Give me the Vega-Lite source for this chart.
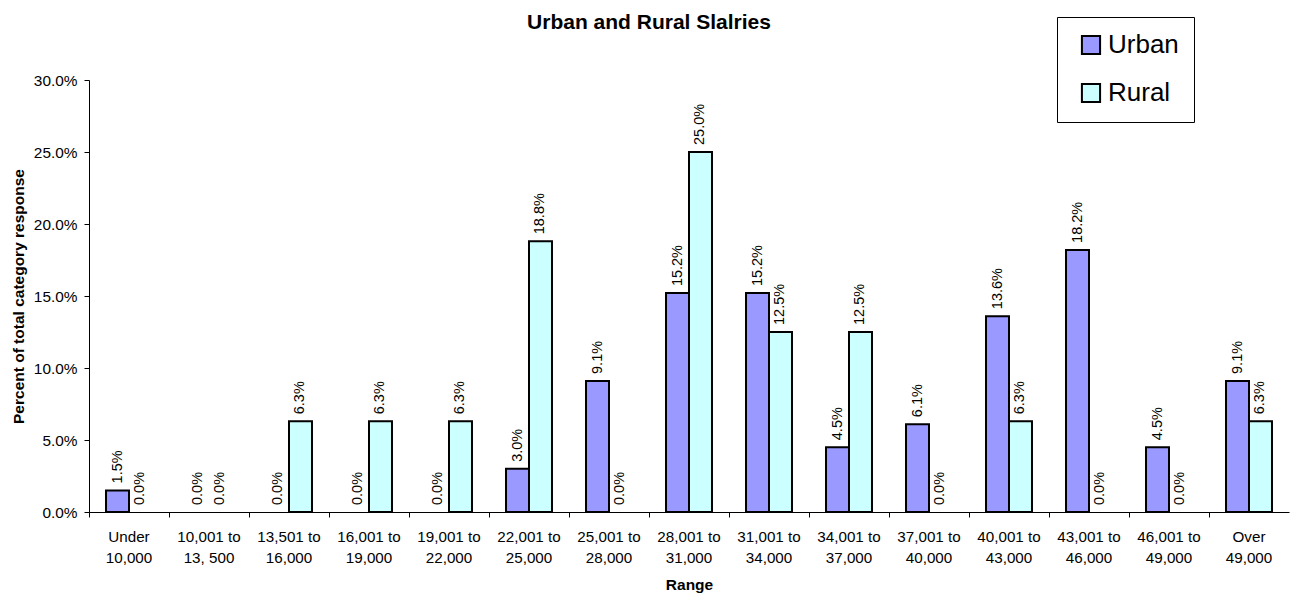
{
  "$schema": "https://vega.github.io/schema/vega-lite/v6.json",
  "width": 1200,
  "height": 432,
  "autosize": "none",
  "padding": {"left": 89, "top": 80, "right": 9, "bottom": 82},
  "background": "white",
  "config": {
    "font": "Liberation Sans",
    "view": {"stroke": null}
  },
  "title": {
    "text": "Urban and Rural Slalries",
    "fontSize": 21,
    "fontWeight": "bold",
    "color": "black",
    "anchor": "middle",
    "dx": -40,
    "offset": -16
  },
  "data": {
    "values": [
      {"range": "Under|10,000", "series": "Urban", "pct": 0.015},
      {"range": "Under|10,000", "series": "Rural", "pct": 0.0},
      {"range": "10,001 to|13, 500", "series": "Urban", "pct": 0.0},
      {"range": "10,001 to|13, 500", "series": "Rural", "pct": 0.0},
      {"range": "13,501 to|16,000", "series": "Urban", "pct": 0.0},
      {"range": "13,501 to|16,000", "series": "Rural", "pct": 0.063},
      {"range": "16,001 to|19,000", "series": "Urban", "pct": 0.0},
      {"range": "16,001 to|19,000", "series": "Rural", "pct": 0.063},
      {"range": "19,001 to|22,000", "series": "Urban", "pct": 0.0},
      {"range": "19,001 to|22,000", "series": "Rural", "pct": 0.063},
      {"range": "22,001 to|25,000", "series": "Urban", "pct": 0.03},
      {"range": "22,001 to|25,000", "series": "Rural", "pct": 0.188},
      {"range": "25,001 to|28,000", "series": "Urban", "pct": 0.091},
      {"range": "25,001 to|28,000", "series": "Rural", "pct": 0.0},
      {"range": "28,001 to|31,000", "series": "Urban", "pct": 0.152},
      {"range": "28,001 to|31,000", "series": "Rural", "pct": 0.25},
      {"range": "31,001 to|34,000", "series": "Urban", "pct": 0.152},
      {"range": "31,001 to|34,000", "series": "Rural", "pct": 0.125},
      {"range": "34,001 to|37,000", "series": "Urban", "pct": 0.045},
      {"range": "34,001 to|37,000", "series": "Rural", "pct": 0.125},
      {"range": "37,001 to|40,000", "series": "Urban", "pct": 0.061},
      {"range": "37,001 to|40,000", "series": "Rural", "pct": 0.0},
      {"range": "40,001 to|43,000", "series": "Urban", "pct": 0.136},
      {"range": "40,001 to|43,000", "series": "Rural", "pct": 0.063},
      {"range": "43,001 to|46,000", "series": "Urban", "pct": 0.182},
      {"range": "43,001 to|46,000", "series": "Rural", "pct": 0.0},
      {"range": "46,001 to|49,000", "series": "Urban", "pct": 0.045},
      {"range": "46,001 to|49,000", "series": "Rural", "pct": 0.0},
      {"range": "Over|49,000", "series": "Urban", "pct": 0.091},
      {"range": "Over|49,000", "series": "Rural", "pct": 0.063}
    ]
  },
  "encoding": {
    "x": {
      "field": "range",
      "type": "nominal",
      "sort": null,
      "scale": {
        "domain": ["Under|10,000", "10,001 to|13, 500", "13,501 to|16,000", "16,001 to|19,000", "19,001 to|22,000", "22,001 to|25,000", "25,001 to|28,000", "28,001 to|31,000", "31,001 to|34,000", "34,001 to|37,000", "37,001 to|40,000", "40,001 to|43,000", "43,001 to|46,000", "46,001 to|49,000", "Over|49,000"],
        "paddingInner": 0,
        "paddingOuter": 0
      },
      "axis": {
        "title": "Range",
        "titleFontSize": 15.5,
        "titleFontWeight": "bold",
        "titleColor": "black",
        "titlePadding": 12,
        "labelAngle": 0,
        "labelFontSize": 15.2,
        "labelColor": "black",
        "labelLineHeight": 21,
        "labelPadding": 12,
        "labelExpr": "split(datum.value, '|')",
        "bandPosition": 0,
        "domainColor": "black",
        "tickColor": "black",
        "tickSize": 5,
        "grid": false
      }
    },
    "xOffset": {
      "field": "series",
      "type": "nominal",
      "sort": ["Urban", "Rural"],
      "scale": {"domain": ["Urban", "Rural"], "paddingInner": 0, "paddingOuter": 0.74}
    },
    "y": {
      "field": "pct",
      "type": "quantitative",
      "scale": {"domain": [0, 0.3], "nice": false},
      "axis": {
        "title": "Percent of total category response",
        "titleFontSize": 15.5,
        "titleFontWeight": "bold",
        "titleColor": "black",
        "titlePadding": 7,
        "format": ".1%",
        "values": [0, 0.05, 0.1, 0.15, 0.2, 0.25, 0.3],
        "labelFontSize": 15.4,
        "labelColor": "black",
        "labelPadding": 7,
        "domainColor": "black",
        "tickColor": "black",
        "tickSize": 5,
        "grid": false
      }
    }
  },
  "layer": [
    {
      "transform": [{"filter": "datum.pct > 0"}],
      "mark": {"type": "bar", "stroke": "black", "strokeWidth": 2},
      "encoding": {
        "color": {
          "field": "series",
          "type": "nominal",
          "sort": ["Urban", "Rural"],
          "scale": {"domain": ["Urban", "Rural"], "range": ["#9999FF", "#CCFFFF"]},
          "legend": {
            "title": null,
            "orient": "none",
            "legendX": 968,
            "legendY": -63,
            "direction": "vertical",
            "symbolType": "square",
            "symbolSize": 330,
            "symbolStrokeColor": "black",
            "symbolStrokeWidth": 2,
            "symbolOffset": 6,
            "labelFontSize": 26,
            "labelColor": "black",
            "labelOffset": 4,
            "rowPadding": 20,
            "padding": 15,
            "strokeColor": "black",
            "fillColor": "white"
          }
        }
      }
    },
    {
      "mark": {"type": "text", "angle": 270, "align": "left", "baseline": "middle", "dx": 7, "fontSize": 14.5, "color": "black"},
      "encoding": {
        "text": {"field": "pct", "type": "quantitative", "format": ".1%"}
      }
    }
  ]
}
